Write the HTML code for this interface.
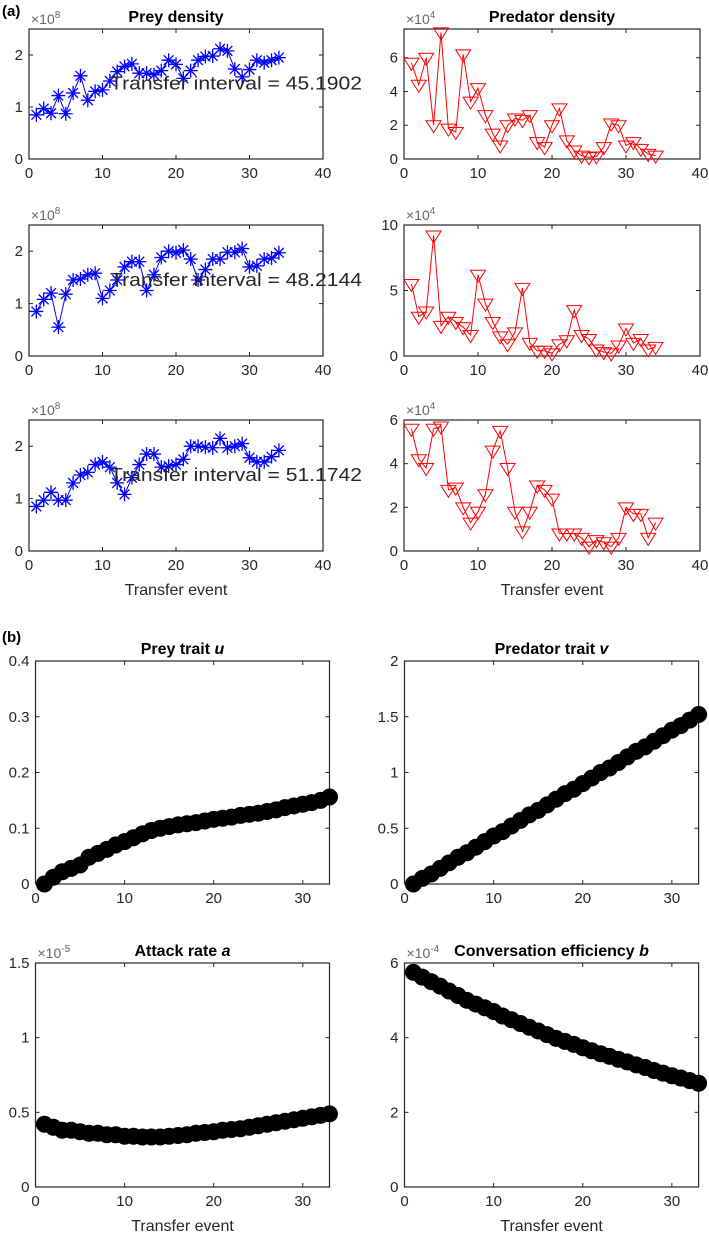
<!DOCTYPE html>
<html><head><meta charset="utf-8"><style>
html,body{margin:0;padding:0;background:#fff;}
svg{display:block;font-family:"Liberation Sans",Arial,sans-serif;}
</style></head><body>
<svg id="fig" width="709" height="1246" viewBox="0 0 709 1246" xmlns="http://www.w3.org/2000/svg"></svg>
<script>
const eventsA = Array.from({length:34},(_,i)=>i+1);
const eventsB = Array.from({length:33},(_,i)=>i+1);
const prey1 = [0.85,0.97,0.88,1.22,0.87,1.27,1.6,1.13,1.3,1.33,1.5,1.68,1.78,1.83,1.65,1.65,1.62,1.7,1.9,1.82,1.55,1.7,1.9,1.97,1.98,2.12,2.08,1.73,1.58,1.72,1.9,1.85,1.9,1.95];
const pred1 = [5.7,4.4,6.0,2.0,7.5,1.8,1.6,6.2,3.4,4.2,2.6,1.5,0.8,2.0,2.4,2.3,2.6,1.0,0.7,2.0,3.0,1.1,0.5,0.2,0.1,0.15,0.7,2.1,2.0,0.8,1.0,0.6,0.3,0.2];
const prey2 = [0.85,1.08,1.2,0.55,1.18,1.45,1.47,1.55,1.58,1.1,1.25,1.45,1.7,1.8,1.8,1.25,1.55,1.88,2.0,1.97,2.02,1.85,1.45,1.65,1.85,1.85,1.98,1.98,2.05,1.7,1.72,1.85,1.87,1.97];
const pred2 = [5.5,3.0,3.4,9.2,2.3,3.0,2.6,2.2,1.6,6.2,4.0,2.6,1.5,0.9,1.8,5.2,1.0,0.4,0.4,0.2,0.9,1.2,3.5,1.6,1.3,0.5,0.3,0.2,0.8,2.1,1.0,1.3,0.5,0.7];
const prey3 = [0.85,0.97,1.12,0.97,0.97,1.3,1.45,1.5,1.65,1.7,1.6,1.3,1.08,1.4,1.65,1.85,1.85,1.6,1.62,1.65,1.75,2.0,2.0,1.98,1.97,2.15,1.97,2.0,2.05,1.78,1.7,1.7,1.8,1.92];
const pred3 = [5.6,4.2,3.8,5.6,5.7,2.8,2.9,2.0,1.3,1.8,2.6,4.6,5.5,3.8,1.8,0.9,1.8,3.0,2.8,2.4,0.8,0.8,0.8,0.6,0.2,0.5,0.4,0.2,0.6,2.0,1.7,1.7,0.6,1.3];
const traitU = [0,0.012,0.022,0.028,0.034,0.048,0.055,0.062,0.07,0.076,0.083,0.09,0.096,0.1,0.103,0.106,0.108,0.11,0.113,0.116,0.118,0.12,0.123,0.125,0.127,0.13,0.133,0.137,0.14,0.143,0.146,0.15,0.156];
const traitV = [0,0.05,0.09,0.14,0.19,0.24,0.28,0.33,0.38,0.43,0.47,0.52,0.57,0.62,0.66,0.71,0.76,0.81,0.85,0.9,0.95,1.0,1.04,1.09,1.14,1.19,1.23,1.28,1.33,1.38,1.42,1.47,1.52];
const attackA = [0.42,0.4,0.38,0.38,0.37,0.36,0.36,0.35,0.35,0.34,0.34,0.335,0.335,0.335,0.34,0.345,0.35,0.36,0.365,0.37,0.38,0.385,0.39,0.4,0.41,0.42,0.43,0.44,0.45,0.46,0.47,0.48,0.49];
const effB = [5.75,5.62,5.5,5.38,5.25,5.13,5.0,4.9,4.8,4.7,4.58,4.48,4.38,4.28,4.18,4.08,3.98,3.9,3.82,3.73,3.65,3.57,3.5,3.42,3.35,3.27,3.2,3.12,3.05,2.98,2.92,2.85,2.78];
const intervals = ["45.1902","48.2144","51.1742"];
const xTicksA = [0,10,20,30,40];
const xTicksB = [0,10,20,30];

const NS="http://www.w3.org/2000/svg";
const svg=document.getElementById('fig');
function el(tag,attrs,parent){const e=document.createElementNS(NS,tag);for(const k in attrs)e.setAttribute(k,attrs[k]);(parent||svg).appendChild(e);return e;}
function txt(s,attrs,parent){const t=el('text',attrs,parent);t.textContent=s;return t;}

function axes(o){
  const g=el('g',{});
  
  
  const sx=v=>o.x0+(v-o.xmin)/(o.xmax-o.xmin)*(o.x1-o.x0);
  const sy=v=>o.y1-(v-o.ymin)/(o.ymax-o.ymin)*(o.y1-o.y0);
  el('rect',{x:o.x0,y:o.y0,width:o.x1-o.x0,height:o.y1-o.y0,fill:'#fff',stroke:'#262626','stroke-width':1.2},g);
  o.xt.forEach(v=>{const x=sx(v);
    el('line',{x1:x,y1:o.y1,x2:x,y2:o.y1-4,stroke:'#262626'},g);
    el('line',{x1:x,y1:o.y0,x2:x,y2:o.y0+4,stroke:'#262626'},g);
    const t=txt(String(v),{x:x,y:o.y1+19,'font-size':15,'text-anchor':'middle',fill:'#262626'},g);
    
    });
  o.yt.forEach((v,i)=>{const y=sy(v);
    el('line',{x1:o.x0,y1:y,x2:o.x0+4,y2:y,stroke:'#262626'},g);
    el('line',{x1:o.x1,y1:y,x2:o.x1-4,y2:y,stroke:'#262626'},g);
    const t=txt(String(v),{x:o.x0-6,y:y+5,'font-size':15,'text-anchor':'end',fill:'#262626'},g);
    
    });
  if(o.exp){const t=el('text',{x:o.x0+2,y:o.y0-5,'font-size':14,fill:'#666'},g);
    
    
    t.appendChild(document.createTextNode('\u00d710'));
    const s=document.createElementNS(NS,'tspan');s.setAttribute('dy',-6);s.setAttribute('font-size',10);s.textContent=o.exp;t.appendChild(s);}
  if(o.title){const t=el('text',{x:(o.x0+o.x1)/2,y:o.y0-7,'font-size':16,'font-weight':'bold','text-anchor':'middle',fill:'#000'},g);
    
    
    t.appendChild(document.createTextNode(o.title));
    if(o.titleVar){const s=document.createElementNS(NS,'tspan');s.setAttribute('font-style','italic');s.textContent=o.titleVar;t.appendChild(s);}}
  if(o.xlabel){const t=txt('Transfer event',{x:(o.x0+o.x1)/2,y:o.y1+44,'font-size':16,'text-anchor':'middle',fill:'#262626'},g);
    
    }
  return {g,sx,sy};
}
function series(ax,xs,ys,color,marker,name){
  const g=el('g',{},ax.g);
  
  
  if(marker!=='dot'){
    el('polyline',{points:xs.map((x,i)=>ax.sx(x)+','+ax.sy(ys[i])).join(' '),fill:'none',stroke:color,'stroke-width':1},g);
  }
  xs.forEach((x,i)=>{const px=ax.sx(x),py=ax.sy(ys[i]);
    if(marker==='star'){const r=7;
      const p=el('path',{d:`M${px-r},${py}H${px+r}M${px},${py-r}V${py+r}M${px-r*0.7},${py-r*0.7}L${px+r*0.7},${py+r*0.7}M${px-r*0.7},${py+r*0.7}L${px+r*0.7},${py-r*0.7}`,stroke:color,'stroke-width':1.3,fill:'none'},g);
      
      }
    else if(marker==='tri'){const r=7.5;
      const p=el('path',{d:`M${px-r},${py-r*0.6}L${px+r},${py-r*0.6}L${px},${py+r}Z`,stroke:color,'stroke-width':1,fill:'none'},g);
      
      }
    else {const c=el('circle',{cx:px,cy:py,r:8.5,fill:'#000'},g);
      
      }
  });
}
const lab=txt('(a)',{x:2,y:16,'font-size':15,'font-weight':'bold'});


const labb=txt('(b)',{x:2,y:642,'font-size':15,'font-weight':'bold'});



const rows=[[29,159],[225,356],[420,551]];
const preys=[prey1,prey2,prey3], preds=[pred1,pred2,pred3];
const predY=[{max:7.7,t:[0,2,4,6]},{max:10,t:[0,5,10]},{max:6,t:[0,2,4,6]}];
rows.forEach((r,i)=>{
  const a=axes({name:'prey-density-'+(i+1),x0:29,x1:323,y0:r[0],y1:r[1],xmin:0,xmax:40,ymin:0,ymax:2.5,xt:xTicksA,yt:[0,1,2],exp:'8',title:i===0?'Prey density':null,xlabel:i===2});
  series(a,eventsA,preys[i],'#0000ff','star','prey-series-'+(i+1));
  const t=txt('Transfer interval = '+intervals[i],{x:110,y:a.sy(1.45)+6,'font-size':18,fill:'#262626',textLength:252,lengthAdjust:'spacingAndGlyphs'},a.g);
  
  
  const b=axes({name:'predator-density-'+(i+1),x0:404,x1:700,y0:r[0],y1:r[1],xmin:0,xmax:40,ymin:0,ymax:predY[i].max,xt:xTicksA,yt:predY[i].t,exp:'4',title:i===0?'Predator density':null,xlabel:i===2});
  series(b,eventsA,preds[i],'#ff0000','tri','predator-series-'+(i+1));
});
const pu=axes({name:'prey-trait-u',x0:35.5,x1:329.5,y0:661,y1:884,xmin:0,xmax:33,ymin:0,ymax:0.4,xt:xTicksB,yt:[0,0.1,0.2,0.3,0.4],title:'Prey trait ',titleVar:'u'});
series(pu,eventsB,traitU,'#000','dot','trait-u-series');
const pv=axes({name:'predator-trait-v',x0:404.5,x1:698.6,y0:661,y1:884,xmin:0,xmax:33,ymin:0,ymax:2,xt:xTicksB,yt:[0,0.5,1,1.5,2],title:'Predator trait ',titleVar:'v'});
series(pv,eventsB,traitV,'#000','dot','trait-v-series');
const pa=axes({name:'attack-rate-a',x0:35.5,x1:329.5,y0:963,y1:1187,xmin:0,xmax:33,ymin:0,ymax:1.5,xt:xTicksB,yt:[0,0.5,1,1.5],exp:'-5',title:'Attack rate ',titleVar:'a',xlabel:true});
series(pa,eventsB,attackA,'#000','dot','attack-rate-series');
const pb=axes({name:'conversation-efficiency-b',x0:404.5,x1:698.6,y0:963,y1:1187,xmin:0,xmax:33,ymin:0,ymax:6,xt:xTicksB,yt:[0,2,4,6],exp:'-4',title:'Conversation efficiency ',titleVar:'b',xlabel:true});
series(pb,eventsB,effB,'#000','dot','efficiency-series');
</script>
</body></html>
